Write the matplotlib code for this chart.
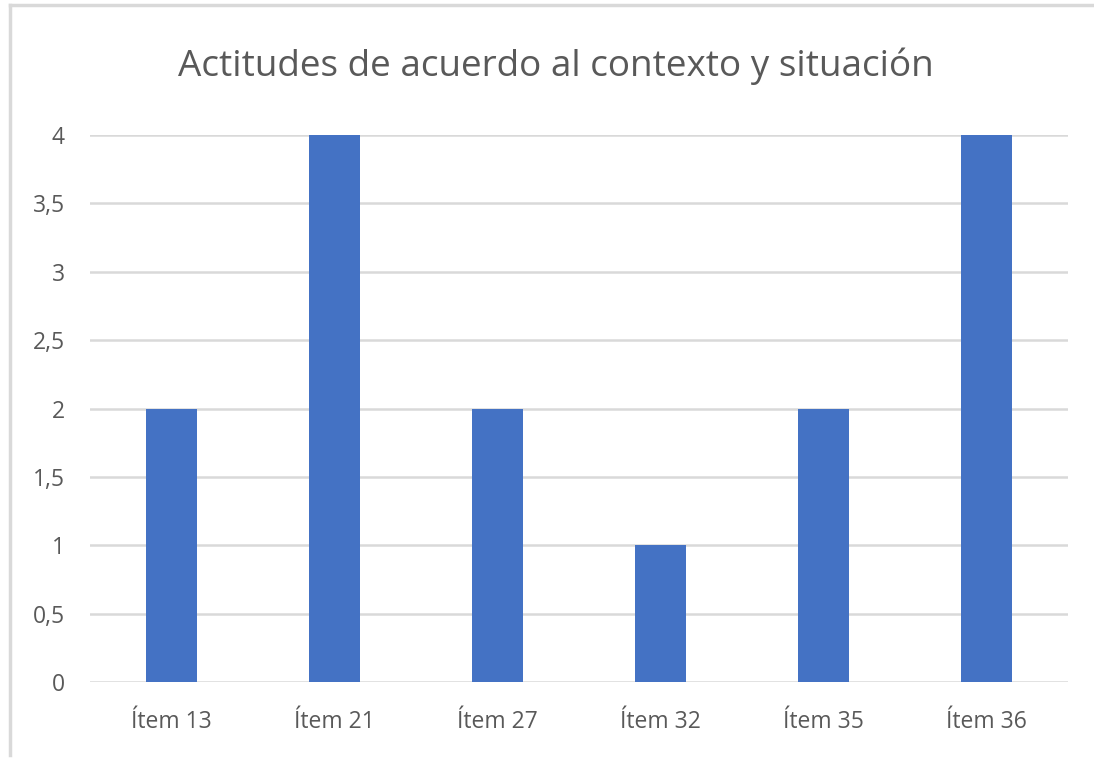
import matplotlib.pyplot as plt
from matplotlib.lines import Line2D

items = ["Ítem 13", "Ítem 21", "Ítem 27", "Ítem 32", "Ítem 35", "Ítem 36"]
values = [2, 4, 2, 1, 2, 4]
yticks = [0, 0.5, 1, 1.5, 2, 2.5, 3, 3.5, 4]
ytick_labels = ["0", "0,5", "1", "1,5", "2", "2,5", "3", "3,5", "4"]

BAR = "#4472C4"
GRID = "#D9D9D9"
TEXT = "#595959"

plt.rcParams['font.family'] = ['Open Sans', 'DejaVu Sans']

fig = plt.figure(figsize=(10.94, 7.59), dpi=100)
W, H = 1094, 759
# axes area in pixels: x 90..1068, y 135..682
ax = fig.add_axes([90 / W, 1 - 682 / H, (1068 - 90) / W, (682 - 135) / H])

x = list(range(len(items)))
ax.bar(x, values, width=0.31, color=BAR, zorder=3)
ax.set_xlim(-0.5, len(items) - 0.5)
ax.set_ylim(0, 4)
ax.set_yticks(yticks)
ax.set_yticklabels(ytick_labels)
ax.set_xticks(x)
ax.set_xticklabels(items)
ax.grid(axis='y', color=GRID, linewidth=1.8, zorder=0)
ax.tick_params(length=0, labelsize=16.5, colors=TEXT)
ax.tick_params(axis='y', pad=18)
ax.tick_params(axis='x', pad=20)
for s in ax.spines.values():
    s.set_visible(False)
ax.set_axisbelow(True)

fig.text(556 / W, 1 - 66 / H, "Actitudes de acuerdo al contexto y situación",
         ha='center', va='center', fontsize=26.6, color=TEXT)

# outer chart border (top and left visible)
fig.add_artist(Line2D([10 / W, 1], [1 - 5 / H, 1 - 5 / H], color=GRID, linewidth=2.5))
fig.add_artist(Line2D([10 / W, 10 / W], [1 - 5 / H, 1 - 755 / H], color=GRID, linewidth=2.5))

fig.savefig("out.png", dpi=100)
